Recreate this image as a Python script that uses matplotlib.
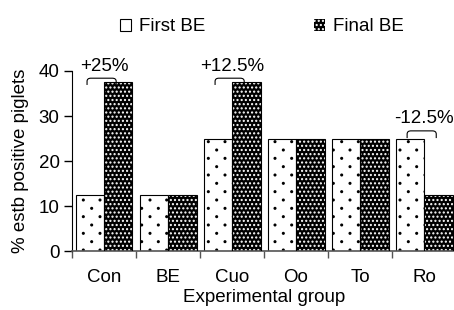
import matplotlib
matplotlib.use('Agg')
import matplotlib.pyplot as plt
import matplotlib.hatch as mhatch
import numpy as np
from matplotlib.patches import Patch, PathPatch
from matplotlib.path import Path

# data
groups = ['Con', 'BE', 'Cuo', 'Oo', 'To', 'Ro']
first_be = [12.5, 12.5, 25, 25, 25, 25]
final_be = [37.5, 12.5, 37.5, 25, 25, 12.5]
changes = ['+25%', '', '+12.5%', '', '', '-12.5%']


# sparse staggered dot hatch (rows twice as close as columns), used via 'O'
class DiamondDots(mhatch.HatchPatternBase):
    size = 0.1

    def __init__(self, hatch, density):
        self.n = hatch.count('O') * density
        self.points = []
        self.circ = Path.unit_circle()
        if self.n == 0:
            self.num_vertices = 0
            return
        for r in range(2 * self.n + 1):
            y = r / (2 * self.n)
            if r % 2 == 0:
                xs = [c / self.n for c in range(self.n + 1)]
            else:
                xs = [(c + 0.5) / self.n for c in range(self.n)]
            self.points += [(xx, y) for xx in xs]
        self.num_vertices = len(self.points) * len(self.circ.vertices)

    def set_vertices_and_codes(self, vertices, codes):
        nv = len(self.circ.vertices)
        rad = self.size / self.n / 2
        cur = 0
        for (px, py) in self.points:
            vertices[cur:cur + nv] = self.circ.vertices * rad + (px, py)
            codes[cur:cur + nv] = self.circ.codes
            cur += nv


mhatch._hatch_types = [DiamondDots if t is mhatch.LargeCircles else t
                       for t in mhatch._hatch_types]

plt.rcParams['font.family'] = ['Liberation Sans', 'DejaVu Sans']
plt.rcParams['hatch.linewidth'] = 1.0

fig = plt.figure(figsize=(4.54, 3.10), dpi=100)
ax = fig.add_axes([0.1586, 0.19, 0.846, 0.581])

x = np.arange(len(groups))
w = 0.445

# first BE: white with sparse black dots
ax.bar(x - w, first_be, width=w, align='edge', facecolor='white',
       edgecolor='black', hatch='O', linewidth=0.8, zorder=2)
# final BE: black with white dots, then a black outline
ax.bar(x, final_be, width=w, align='edge', facecolor='black',
       edgecolor='white', hatch='....', linewidth=0, zorder=2)
ax.bar(x, final_be, width=w, align='edge', fill=False,
       edgecolor='black', linewidth=0.8, zorder=3)


def bracket(ax, x0, x1, ybot, ytop, rx=0.06, ry=0.7):
    verts = [(x0, ybot), (x0, ytop - ry), (x0, ytop), (x0 + rx, ytop),
             (x1 - rx, ytop), (x1, ytop), (x1, ytop - ry), (x1, ybot)]
    codes = [Path.MOVETO, Path.LINETO, Path.CURVE3, Path.CURVE3,
             Path.LINETO, Path.CURVE3, Path.CURVE3, Path.LINETO]
    ax.add_patch(PathPatch(Path(verts, codes), fill=False, edgecolor='black',
                           linewidth=0.8, clip_on=False, zorder=4))


for i, lab in enumerate(changes):
    if not lab:
        continue
    top = max(first_be[i], final_be[i])
    if final_be[i] > first_be[i]:
        ytop, ybot = top + 0.9, top - 0.6
    else:
        ytop, ybot = top + 1.7, top + 0.1
    bracket(ax, i - 0.265, i + 0.19, ybot, ytop)
    ax.text(i, ytop + 1.7, lab, ha='center', va='baseline', fontsize=13.5,
            clip_on=False)

ax.set_xlim(-0.5, len(groups) - 0.5)
ax.set_ylim(0, 40)
ax.set_yticks([0, 10, 20, 30, 40])
ax.set_xticks(x)
ax.set_xticklabels(groups)
ax.set_xticks(np.arange(len(groups) + 1) - 0.5, minor=True)
ax.tick_params(axis='x', which='major', length=0, pad=13, labelsize=13.5)
ax.tick_params(axis='x', which='minor', length=5, width=1, color='#555555')
ax.tick_params(axis='y', length=6, width=1, labelsize=13.5, pad=3)

ax.spines['top'].set_visible(False)
ax.spines['right'].set_visible(False)
ax.spines['bottom'].set_color('#555555')
ax.spines['bottom'].set_linewidth(1.2)
ax.spines['left'].set_linewidth(0.8)

ax.set_xlabel('Experimental group', fontsize=13.5, labelpad=2)
ax.set_ylabel('% estb positive piglets', fontsize=13.5, labelpad=7)

handles = [Patch(facecolor='white', edgecolor='black', linewidth=0.8),
           Patch(facecolor='black', edgecolor='white', hatch='....', linewidth=0)]
fig.legend(handles, ['First BE', 'Final BE'], loc='center',
           bbox_to_anchor=(0.577, 0.913), ncol=2, frameon=False,
           fontsize=13.5, handlelength=0.6, handleheight=0.6,
           handletextpad=0.4, columnspacing=5.8)

fig.savefig('out.png', dpi=100)
